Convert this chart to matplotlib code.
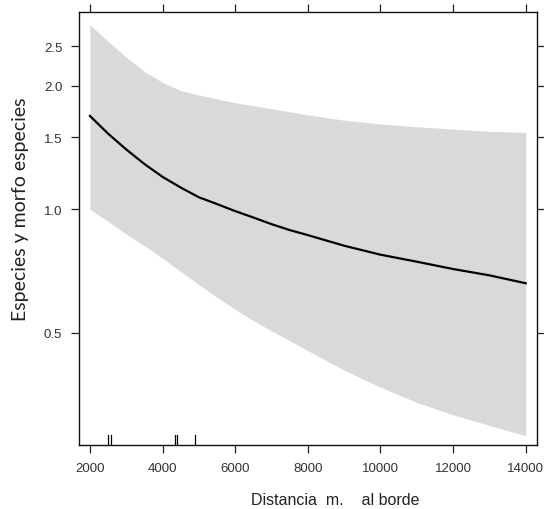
import matplotlib
matplotlib.use("Agg")
import matplotlib.pyplot as plt
import numpy as np
from matplotlib.ticker import FixedLocator, FixedFormatter, NullLocator

# Data
distance = [2000, 2500, 3000, 3500, 4000, 4500, 5000, 5500, 6000, 6500, 7000, 7500,
            8000, 9000, 10000, 11000, 12000, 13000, 14000]
fit = [1.69, 1.53, 1.40, 1.29, 1.20, 1.13, 1.07, 1.03, 0.99, 0.955, 0.92, 0.89,
       0.865, 0.815, 0.775, 0.745, 0.715, 0.69, 0.66]
upper = [2.82, 2.57, 2.35, 2.17, 2.04, 1.95, 1.90, 1.86, 1.82, 1.79, 1.76, 1.73,
         1.70, 1.65, 1.615, 1.59, 1.57, 1.55, 1.54]
lower = [1.00, 0.935, 0.87, 0.815, 0.76, 0.705, 0.655, 0.61, 0.57, 0.535, 0.505, 0.478,
         0.452, 0.405, 0.368, 0.338, 0.315, 0.297, 0.28]
rug = [2510, 2580, 4350, 4405, 4900]
xticks = [2000, 4000, 6000, 8000, 10000, 12000, 14000]
yticks = [0.5, 1.0, 1.5, 2.0, 2.5]
ytick_labels = ["0.5", "1.0", "1.5", "2.0", "2.5"]

fig = plt.figure(figsize=(5.44, 5.10), dpi=100)
ax = fig.add_axes([79/544, (510-446)/510, (537-79)/544, (446-13)/510])

ax.fill_between(distance, lower, upper, color="#d9d9d9", linewidth=0)
ax.plot(distance, fit, color="black", linewidth=1.6, solid_joinstyle="round")

ax.set_yscale("log")
ax.set_xlim(1700, 14310)
ax.set_ylim(0.266, 3.03)

for r in rug:
    ax.plot([r, r], [0, 0.022], transform=ax.get_xaxis_transform(), color="black", linewidth=0.9)

ax.xaxis.set_major_locator(FixedLocator(xticks))
ax.xaxis.set_minor_locator(NullLocator())
ax.yaxis.set_major_locator(FixedLocator(yticks))
ax.yaxis.set_major_formatter(FixedFormatter(ytick_labels))
ax.yaxis.set_minor_locator(NullLocator())

ax.tick_params(axis="both", which="major", direction="out", length=6, width=0.9,
               colors="#222222", labelcolor="#333333", pad=6,
               top=True, right=True, labeltop=False, labelright=False)
for lab in ax.get_xticklabels() + ax.get_yticklabels():
    lab.set_fontfamily(["Liberation Sans", "DejaVu Sans"])
    lab.set_fontsize(9.5)

for s in ax.spines.values():
    s.set_linewidth(1.0)
    s.set_color("#111111")

ax.set_xlabel("Distancia  m.    al borde", fontsize=11.5,
              family=["Liberation Sans", "DejaVu Sans"], color="#222222")
ax.xaxis.set_label_coords((335-79)/458, -(493-446)/433)
ax.xaxis.label.set_verticalalignment("top")

ax.set_ylabel("Especies y morfo especies", fontsize=14,
              family=["Lato", "DejaVu Sans"], color="#222222")
ax.yaxis.set_label_coords(-(79-29)/458, (446-209)/433)

fig.savefig("out.png", dpi=100)
